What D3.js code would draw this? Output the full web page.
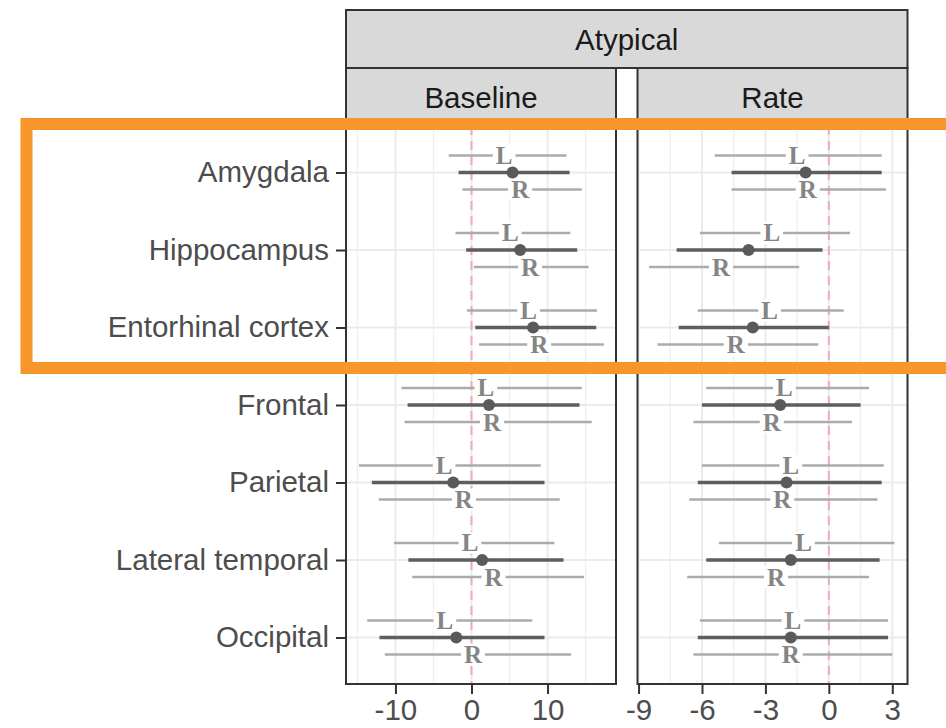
<!DOCTYPE html>
<html>
<head>
<meta charset="utf-8">
<script src="https://cdn.jsdelivr.net/npm/d3@7"></script>
<style>
  html, body { margin: 0; padding: 0; background: #fff; }
  svg { display: block; }
</style>
</head>
<body>
<svg id="chart" width="946" height="728"></svg>
<script>
// Brain regions, top to bottom
const regions = ["Amygdala", "Hippocampus", "Entorhinal cortex", "Frontal",
                 "Parietal", "Lateral temporal", "Occipital"];

// Estimates as [lower, estimate, upper] per region
const baselineBoth  = [[-1.7, 5.4, 12.9], [-0.7, 6.4, 13.9], [0.5, 8.1, 16.4], [-8.4, 2.3, 14.2],
                       [-13.1, -2.4, 9.6], [-8.3, 1.4, 12.1], [-12.1, -2.0, 9.6]];
const baselineLeft  = [[-3.0, 4.3, 12.5], [-2.1, 5.1, 13.0], [-0.6, 7.5, 16.5], [-9.2, 1.9, 14.5],
                       [-14.8, -3.6, 9.1], [-10.2, -0.2, 10.9], [-13.7, -3.5, 8.0]];
const baselineRight = [[-1.2, 6.4, 14.5], [0.3, 7.7, 15.4], [1.0, 8.9, 17.4], [-8.8, 2.7, 15.8],
                       [-12.2, -1.0, 11.6], [-7.8, 2.9, 14.8], [-11.4, 0.2, 13.1]];

const rateBoth  = [[-4.6, -1.1, 2.5], [-7.2, -3.8, -0.3], [-7.1, -3.6, 0.0], [-6.0, -2.3, 1.5],
                   [-6.2, -2.0, 2.5], [-5.8, -1.8, 2.4], [-6.2, -1.8, 2.8]];
const rateLeft  = [[-5.4, -1.5, 2.5], [-6.1, -2.7, 1.0], [-6.2, -2.8, 0.7], [-5.8, -2.1, 1.9],
                   [-6.0, -1.8, 2.6], [-5.2, -1.2, 3.1], [-6.1, -1.7, 2.8]];
const rateRight = [[-4.6, -1.0, 2.7], [-8.5, -5.1, -1.4], [-8.1, -4.4, -0.5], [-6.4, -2.7, 1.1],
                   [-6.6, -2.2, 2.3], [-6.7, -2.5, 1.9], [-6.4, -1.8, 3.0]];

// Axis ticks and limits for each panel
const baselineTicks = [-10, 0, 10];
const baselineMinor = [-15, -5, 5, 15];
const baselineLimits = [-16.5, 19.0];
const rateTicks = [-9, -6, -3, 0, 3];
const rateMinor = [-7.5, -4.5, -1.5, 1.5];
const rateLimits = [-9.05, 3.72];

const outerStrip = "Atypical";
const panelTitles = ["Baseline", "Rate"];

const svg = d3.select("#chart");
const FONT = "'Liberation Sans', Arial, sans-serif";
const LABEL_FONT = "'Liberation Serif', 'Times New Roman', serif";

const top1 = 10, top2 = 68, panelTop = 126, panelBottom = 684;

const y = d3.scalePoint().domain(regions).range([panelTop, panelBottom]).padding(0.6);
const dodge = y.step() * 0.22;

const panels = [
  { title: panelTitles[0], x0: 346, x1: 616, limits: baselineLimits, ticks: baselineTicks,
    minor: baselineMinor, both: baselineBoth, left: baselineLeft, right: baselineRight },
  { title: panelTitles[1], x0: 637.5, x1: 907.5, limits: rateLimits, ticks: rateTicks,
    minor: rateMinor, both: rateBoth, left: rateLeft, right: rateRight }
];

// Outer strip spanning both panels
svg.append("rect")
  .attr("x", panels[0].x0).attr("y", top1)
  .attr("width", panels[1].x1 - panels[0].x0).attr("height", top2 - top1)
  .attr("fill", "#d9d9d9").attr("stroke", "#333").attr("stroke-width", 2);
svg.append("text")
  .attr("x", (panels[0].x0 + panels[1].x1) / 2).attr("y", (top1 + top2) / 2)
  .attr("dy", "0.36em").attr("text-anchor", "middle")
  .style("font-family", FONT).style("font-size", "29.5px").attr("fill", "#1a1a1a")
  .text(outerStrip);

panels.forEach((p, pi) => {
  const x = d3.scaleLinear().domain(p.limits).range([p.x0, p.x1]);
  const g = svg.append("g");

  // panel strip
  g.append("rect")
    .attr("x", p.x0).attr("y", top2).attr("width", p.x1 - p.x0).attr("height", panelTop - top2)
    .attr("fill", "#d9d9d9").attr("stroke", "#333").attr("stroke-width", 2);
  g.append("text")
    .attr("x", (p.x0 + p.x1) / 2).attr("y", (top2 + panelTop) / 2)
    .attr("dy", "0.36em").attr("text-anchor", "middle")
    .style("font-family", FONT).style("font-size", "29.5px").attr("fill", "#1a1a1a")
    .text(p.title);

  // panel background
  g.append("rect")
    .attr("x", p.x0).attr("y", panelTop).attr("width", p.x1 - p.x0).attr("height", panelBottom - panelTop)
    .attr("fill", "#fff");

  // grid
  g.selectAll(".minor").data(p.minor).join("line")
    .attr("x1", d => x(d)).attr("x2", d => x(d))
    .attr("y1", panelTop).attr("y2", panelBottom)
    .attr("stroke", "#f0f0f0").attr("stroke-width", 1.4);
  g.selectAll(".major").data(p.ticks).join("line")
    .attr("x1", d => x(d)).attr("x2", d => x(d))
    .attr("y1", panelTop).attr("y2", panelBottom)
    .attr("stroke", "#ebebeb").attr("stroke-width", 2);
  g.selectAll(".hgrid").data(regions).join("line")
    .attr("x1", p.x0).attr("x2", p.x1)
    .attr("y1", d => y(d)).attr("y2", d => y(d))
    .attr("stroke", "#ebebeb").attr("stroke-width", 2);

  // reference line at zero
  g.append("line")
    .attr("x1", x(0)).attr("x2", x(0)).attr("y1", panelTop).attr("y2", panelBottom)
    .attr("stroke", "#f4a9bb").attr("stroke-width", 2).attr("stroke-dasharray", "9,6");

  // hemisphere intervals
  const hemis = [
    { data: p.left, off: -dodge, label: "L" },
    { data: p.right, off: dodge, label: "R" }
  ];
  hemis.forEach(h => {
    g.selectAll(null).data(h.data).join("line")
      .attr("x1", d => x(d[0])).attr("x2", d => x(d[2]))
      .attr("y1", (d, i) => y(regions[i]) + h.off).attr("y2", (d, i) => y(regions[i]) + h.off)
      .attr("stroke", "#ababab").attr("stroke-width", 2.6);
  });

  // combined intervals
  g.selectAll(null).data(p.both).join("line")
    .attr("x1", d => x(d[0])).attr("x2", d => x(d[2]))
    .attr("y1", (d, i) => y(regions[i])).attr("y2", (d, i) => y(regions[i]))
    .attr("stroke", "#5e5e5e").attr("stroke-width", 3.4);

  // L / R labels on white boxes
  hemis.forEach(h => {
    const lg = g.selectAll(null).data(h.data).join("g")
      .attr("transform", (d, i) => `translate(${x(d[1])},${y(regions[i]) + h.off})`);
    lg.append("rect").attr("fill", "#fff");
    lg.append("text")
      .attr("text-anchor", "middle").attr("y", 8.5)
      .style("font-family", LABEL_FONT).style("font-size", "25px").style("font-weight", "bold")
      .attr("fill", "#858585").text(h.label);
    lg.each(function () {
      const w = d3.select(this).select("text").node().getComputedTextLength() + 6;
      d3.select(this).select("rect")
        .attr("x", -w / 2).attr("y", -11).attr("width", w).attr("height", 22);
    });
  });

  // point estimates
  g.selectAll(null).data(p.both).join("circle")
    .attr("cx", d => x(d[1])).attr("cy", (d, i) => y(regions[i]))
    .attr("r", 6).attr("fill", "#5a5a5a");

  // panel border
  g.append("rect")
    .attr("x", p.x0).attr("y", panelTop).attr("width", p.x1 - p.x0).attr("height", panelBottom - panelTop)
    .attr("fill", "none").attr("stroke", "#333").attr("stroke-width", 2);

  // bottom axis
  const ax = g.append("g").attr("transform", `translate(0,${panelBottom})`)
    .call(d3.axisBottom(x).tickValues(p.ticks).tickSize(10).tickPadding(5).tickFormat(d3.format("d")));
  ax.select(".domain").remove();
  ax.selectAll(".tick line").attr("stroke", "#333").attr("stroke-width", 2);
  ax.selectAll(".tick text").style("font-family", FONT).style("font-size", "29.5px").attr("fill", "#4d4d4d")
    .text(d => d < 0 ? "-" + Math.abs(d) : d);

  // left axis on first panel
  if (pi === 0) {
    const ay = svg.append("g").attr("transform", `translate(${p.x0},0)`)
      .call(d3.axisLeft(y).tickSize(10).tickPadding(7));
    ay.select(".domain").remove();
    ay.selectAll(".tick line").attr("stroke", "#333").attr("stroke-width", 2);
    ay.selectAll(".tick text").style("font-family", FONT).style("font-size", "29.5px").attr("fill", "#4d4d4d");
  }
});

// highlight frame around the medial temporal regions
svg.append("rect")
  .attr("x", 26.5).attr("y", 124).attr("width", 1000).attr("height", 244)
  .attr("fill", "none").attr("stroke", "#f7962a").attr("stroke-width", 12);
</script>
</body>
</html>
